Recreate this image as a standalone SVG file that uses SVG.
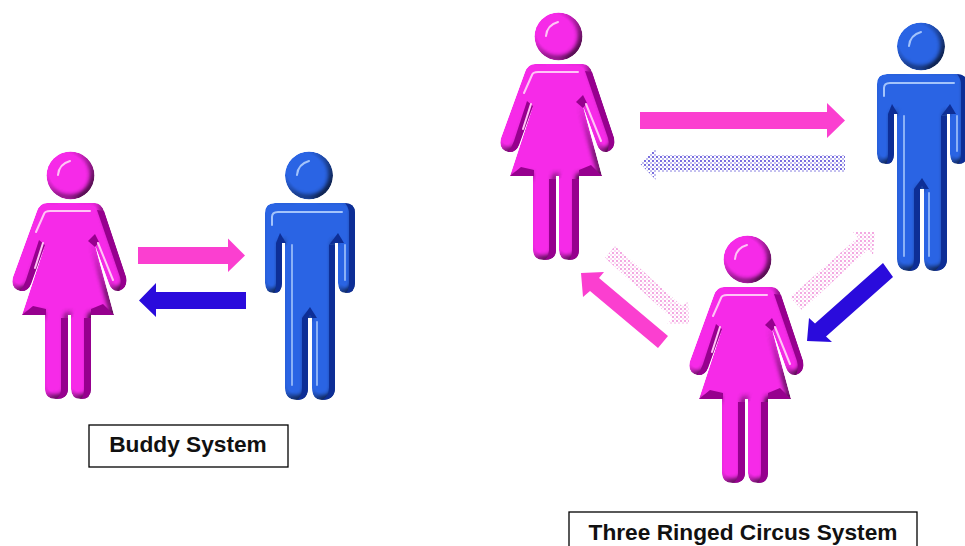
<svg xmlns="http://www.w3.org/2000/svg" xmlns:xlink="http://www.w3.org/1999/xlink" width="965" height="546" viewBox="0 0 965 546">
<style>
.lbl{font-family:"Liberation Sans",Arial,sans-serif;font-weight:700;font-size:22.7px;fill:#111;text-anchor:middle}
.box{fill:#fff;stroke:#000;stroke-width:1.3}
.hw{fill:none;stroke:#ffc4f6;stroke-width:2;stroke-linecap:round;stroke-linejoin:round}
.hm{fill:none;stroke:#a4c4fb;stroke-width:2;stroke-linecap:round;stroke-linejoin:round}
</style>
<defs>
<filter id="bevel" x="-10%" y="-10%" width="120%" height="120%" color-interpolation-filters="sRGB">
<feGaussianBlur in="SourceAlpha" stdDeviation="3.2" result="b"/>
<feDiffuseLighting in="b" surfaceScale="7" diffuseConstant="1.22" lighting-color="#fff" result="d"><feDistantLight azimuth="225" elevation="55"/></feDiffuseLighting>
<feComposite in="d" in2="SourceGraphic" operator="arithmetic" k1=".62" k2="0" k3=".38" k4="0" result="lit"/>
<feComposite in="lit" in2="SourceAlpha" operator="in"/>
</filter>
<filter id="soft" x="-20%" y="-20%" width="140%" height="140%"><feGaussianBlur stdDeviation=".5"/></filter>
<pattern id="dotB" width="4" height="4" patternUnits="userSpaceOnUse"><rect width="4" height="4" fill="#fff"/><circle cx="1" cy="1" r=".9" fill="#3a2ad0"/><circle cx="3" cy="3" r=".7" fill="#5a4ed8"/></pattern>
<pattern id="dotP" width="4" height="4" patternUnits="userSpaceOnUse"><rect width="4" height="4" fill="#fff"/><circle cx="1" cy="1" r=".9" fill="#ee80d4"/><circle cx="3" cy="3" r=".7" fill="#f49cdf"/></pattern>
<g id="woman">
<g filter="url(#bevel)" fill="#f62ae8">
<circle cx="70.500" cy="175.500" r="24"/>
<path d="M47 203H95Q101 203 104 211L126 277Q128 288 119 291Q112 292 109 284L95 245L114 315H91V389Q91 399 81 399Q71 399 71 389V315H68V389Q68 399 56 399Q45 399 45 389V315H22L45 245L31 284Q28 292 20 291Q10 288 13 277L37 211Q40 203 47 203Z"/>
</g>
<g filter="url(#soft)" fill="#96028e">
<path d="M61 318H68V389Q68 399 56 399Q61 396 61 389Z"/>
<path d="M84 318H91V389Q91 399 81 399Q84 396 84 389Z"/>
<path d="M22 315L33 306L46 309V315Z"/>
<path d="M91 315V309L103 304L114 315Z"/>
<path d="M45 245L31 284Q28 292 20 291Q24 286 26 280L39 240Z"/>
<path d="M104 211L126 277Q128 288 119 291Q122 284 120 277L97 210Z"/>
<path d="M88 241L95 234L99 242L95 247Z"/>
</g>
<g filter="url(#soft)">
<path d="M58 175Q59 164 70 161" class="hw" stroke-width="3"/>
<path d="M36 232L44 214Q45 211 50 211H90" class="hw"/>
<path d="M98 243L113 280M43 243L35 268" class="hw"/>
</g>
</g>
<g id="man">
<g filter="url(#bevel)" fill="#2a64e4">
<circle cx="309" cy="175.500" r="24"/>
<path d="M275 203H345Q355 203 355 213V283Q355 293 346 293Q338 293 338 283V243H335V388Q335 400 322 400Q312 400 312 388V318H308V388Q308 400 297 400Q285 400 285 388V243H282V283Q282 293 274 293Q265 293 265 283V213Q265 203 275 203Z"/>
</g>
<g filter="url(#soft)" fill="#0f2f96">
<path d="M329 245H335V388Q335 400 322 400Q329 396 329 388Z"/>
<path d="M302 318H308V388Q308 400 297 400Q302 396 302 388Z"/>
<path d="M276 243H282V283Q282 293 274 293Q276 290 276 283Z"/>
<path d="M349 213Q349 208 345 203Q355 203 355 213V283Q355 293 346 293Q349 290 349 283Z"/>
<path d="M302 318L310 307L317 318H312L310 315L308 318Z"/>
<path d="M276 243L280 233L286 243Z"/>
<path d="M329 245L338 233L344 243H335Z"/>
</g>
<g filter="url(#soft)">
<path d="M297 175Q298 164 309 161" class="hm"/>
<path d="M272 225V217Q272 212 278 212H342" class="hm"/>
<path d="M292 245V385M317 322V385M345 245V280" class="hm" opacity=".8"/>
</g>
</g>
</defs>
<g id="connectors">
<path d="M138 247H228V238.500L245 255.500L228 272V264H138Z" fill="#fb3fd0"/>
<path d="M246 292H156V283L139 300.500L156 317V309H246Z" fill="#2a0bdc"/>
<path d="M640 112H827V103L845 120.500L827 138V129H640Z" fill="#fb3fd0"/>
<path d="M845 155H656V148L640 163.500L656 180V172H845Z" fill="url(#dotB)"/>
<path d="M668 336L599 278L604 272L581 273L583 297L590 291L658 348Z" fill="#fb3fd0"/>
<path d="M615 246L682.500 306.500L688 301L689 324L667 324L672.500 318.500L605 258Z" fill="url(#dotP)"/>
<path d="M790 297L858 237.500L853 232L875 232L873 255L868 249.500L802 310Z" fill="url(#dotP)"/>
<path d="M883 263L815 323.500L809 318L807 341L832 342L826 336.500L893 277Z" fill="#2a0bdc"/>
</g>
<g id="woman-buddy"><use xlink:href="#woman"/></g>
<g id="man-buddy"><use xlink:href="#man"/></g>
<g id="woman-top" transform="translate(488,-139)"><use xlink:href="#woman"/></g>
<g id="man-top" transform="translate(612,-129)"><use xlink:href="#man"/></g>
<g id="woman-bottom" transform="translate(677,84)"><use xlink:href="#woman"/></g>
<g id="label-buddy"><rect class="box" x="89" y="425" width="199" height="42"/><text class="lbl" x="188" y="452">Buddy System</text></g>
<g id="label-circus"><rect class="box" x="569" y="512" width="348" height="40"/><text class="lbl" x="743" y="540">Three Ringed Circus System</text></g>
</svg>
